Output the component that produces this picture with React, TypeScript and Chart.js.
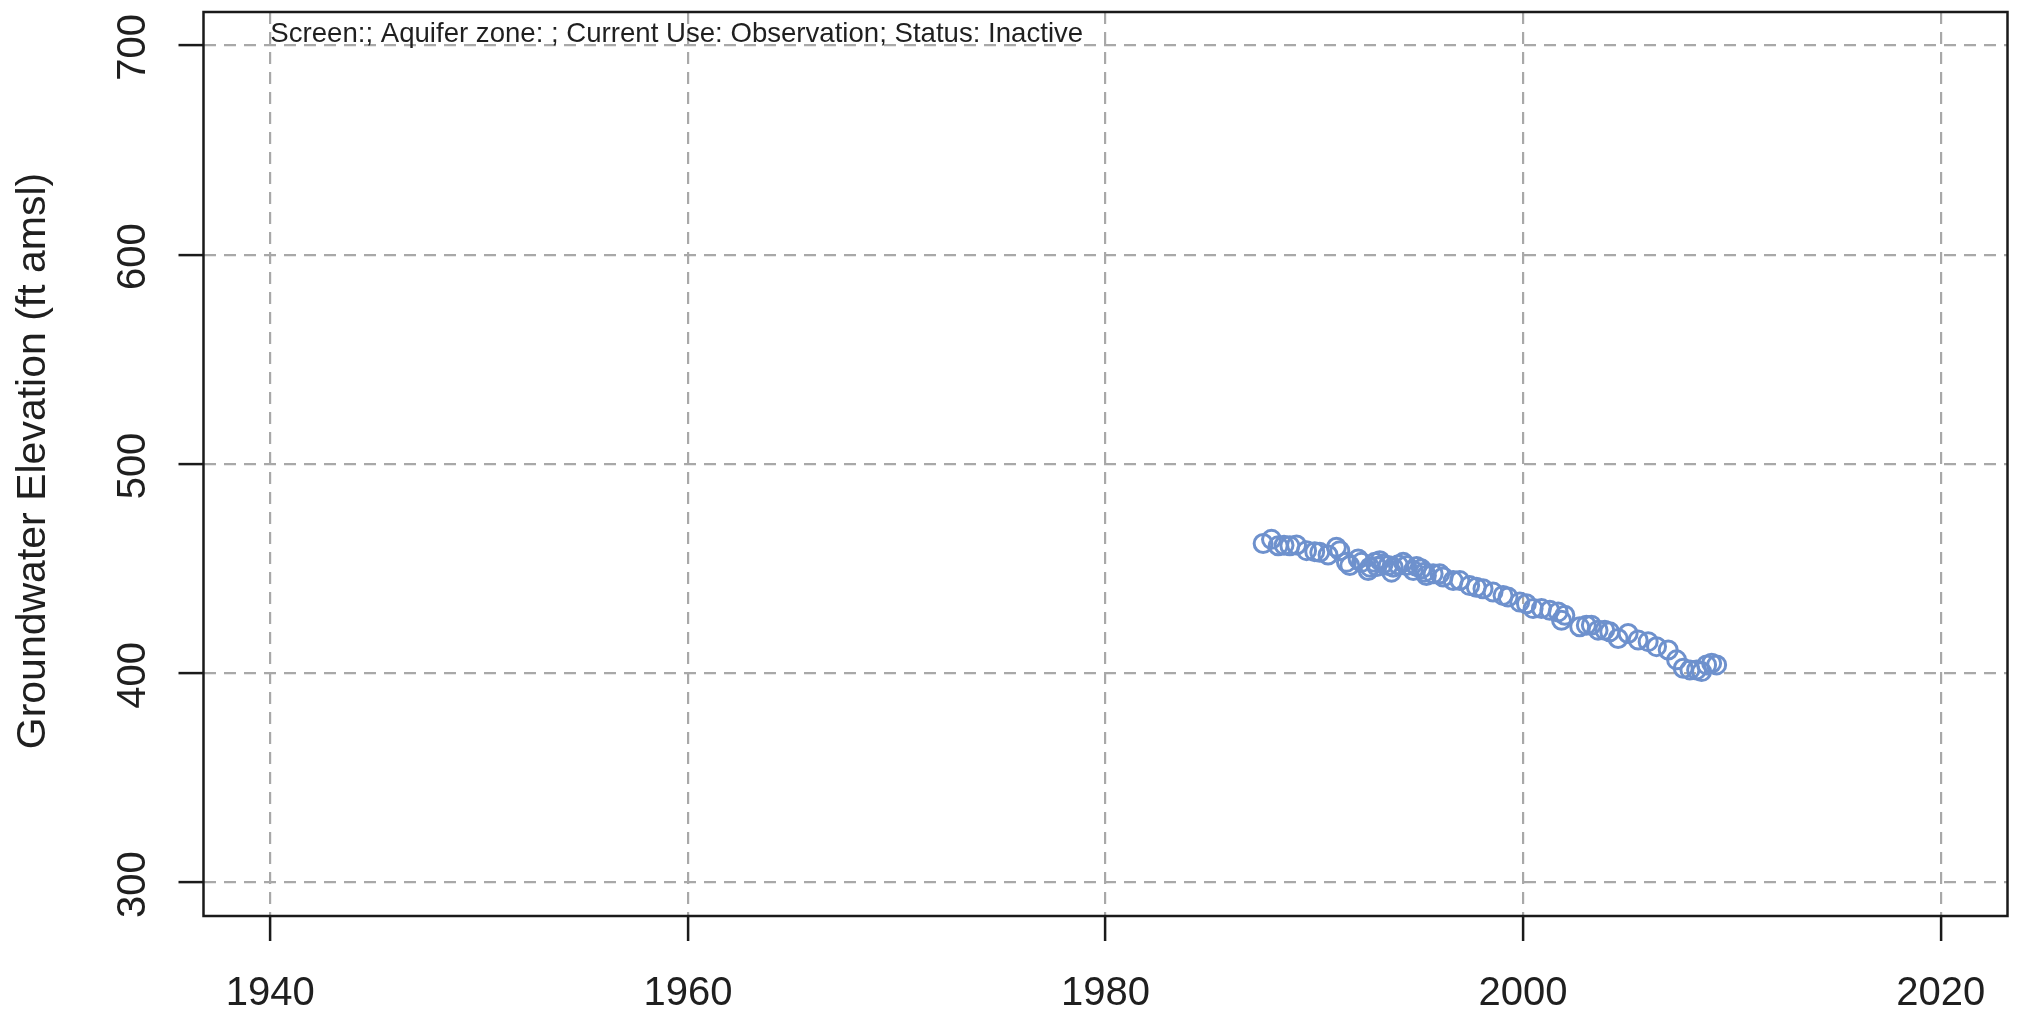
import React, { useEffect, useRef } from "react";
import { Chart, registerables } from "chart.js";

Chart.register(...registerables);

// ---- data ----
const years: number[] = [
  1987.55, 1987.95, 1988.27, 1988.55, 1988.83, 1989.15, 1989.63, 1990.02, 1990.26,
  1990.66, 1991.06, 1991.22, 1991.54, 1991.7, 1992.1, 1992.26, 1992.58, 1992.66, 1992.9,
  1993.0, 1993.14, 1993.3, 1993.54, 1993.7, 1993.78, 1994.02, 1994.26, 1994.42, 1994.74,
  1994.9, 1995.13, 1995.29, 1995.37, 1995.69, 1996.01, 1996.17, 1996.65, 1996.97, 1997.44,
  1997.76, 1998.08, 1998.56, 1999.04, 1999.28, 1999.84, 2000.16, 2000.48, 2000.88, 2001.28,
  2001.68, 2001.84, 2002.0, 2002.71, 2003.03, 2003.27, 2003.59, 2003.91, 2004.15, 2004.55,
  2005.03, 2005.51, 2005.99, 2006.39, 2006.95, 2007.35, 2007.67, 2007.99, 2008.31,
  2008.55, 2008.79, 2009.03, 2009.27,
];
const elevations: number[] = [
  462.0, 464.0, 460.9, 461.2, 460.9, 461.3, 458.6, 458.1, 457.8,
  456.5, 460.2, 458.6, 453.0, 451.5, 454.6, 453.0, 449.1, 450.7, 453.0,
  451.0, 453.8, 452.2, 451.5, 448.3, 450.7, 451.8, 453.0, 451.5, 449.1,
  451.0, 449.9, 448.3, 446.7, 447.5, 447.5, 446.0, 444.3, 444.3, 441.9,
  441.1, 440.4, 438.8, 437.2, 436.4, 434.0, 433.2, 430.9, 430.9, 430.1,
  429.3, 425.3, 427.7, 422.2, 423.0, 423.0, 420.6, 420.6, 419.8, 416.6,
  419.0, 415.9, 415.1, 412.7, 411.1, 406.4, 402.4, 401.6, 401.6,
  400.8, 404.0, 404.8, 404.0,
];
const xTickValues: number[] = [1940, 1960, 1980, 2000, 2020];
const xTickLabels: string[] = ["1940", "1960", "1980", "2000", "2020"];
const yTickValues: number[] = [300, 400, 500, 600, 700];
const yTickLabels: string[] = ["300", "400", "500", "600", "700"];
const xMin = 1936.8;
const xMax = 2023.2;
const yMin = 284;
const yMax = 716;
const yAxisTitle = "Groundwater Elevation (ft amsl)";
const annotationText = "Screen:; Aquifer zone: ; Current Use: Observation; Status: Inactive";

const FONT = '"Liberation Sans", Arial, Helvetica, sans-serif';
const TEXT_COLOR = "#1f1f1f";

const rPlotPlugin = {
  id: "rPlotDecor",
  afterDraw(chart: any) {
    const { ctx, chartArea, scales } = chart;
    const xs = scales.x;
    const ys = scales.y;
    ctx.save();
    // full box
    ctx.strokeStyle = "#1a1a1a";
    ctx.lineWidth = 2.5;
    ctx.setLineDash([]);
    ctx.strokeRect(
      chartArea.left,
      chartArea.top,
      chartArea.right - chartArea.left,
      chartArea.bottom - chartArea.top
    );
    ctx.fillStyle = TEXT_COLOR;
    // x tick labels
    ctx.font = `40px ${FONT}`;
    ctx.textAlign = "center";
    ctx.textBaseline = "alphabetic";
    xTickValues.forEach((v, i) => {
      ctx.fillText(xTickLabels[i], xs.getPixelForValue(v), chartArea.bottom + 89);
    });
    // y tick labels (rotated)
    yTickValues.forEach((v, i) => {
      ctx.save();
      ctx.translate(chartArea.left - 58.5, ys.getPixelForValue(v) + 2);
      ctx.rotate(-Math.PI / 2);
      ctx.fillText(yTickLabels[i], 0, 0);
      ctx.restore();
    });
    // y axis title
    ctx.font = `41px ${FONT}`;
    ctx.save();
    ctx.translate(45, (chartArea.top + chartArea.bottom) / 2 - 3);
    ctx.rotate(-Math.PI / 2);
    ctx.fillText(yAxisTitle, 0, 0);
    ctx.restore();
    // annotation
    ctx.font = `27.6px ${FONT}`;
    ctx.textAlign = "left";
    ctx.fillText(annotationText, xs.getPixelForValue(1940), chartArea.top + 30);
    ctx.restore();
  },
};

export default function App() {
  const canvasRef = useRef<HTMLCanvasElement | null>(null);

  useEffect(() => {
    const canvas = canvasRef.current;
    if (!canvas) return;
    const points = years.map((yr, i) => ({ x: yr, y: elevations[i] }));
    const gridCommon = {
      color: "#a8a8a8",
      lineWidth: 2.2,
      drawTicks: true,
      tickLength: 25,
      tickColor: "#1a1a1a",
      tickWidth: 2.5,
      tickBorderDash: [],
    };
    const chart = new Chart(canvas, {
      type: "scatter",
      data: {
        datasets: [
          {
            data: points,
            showLine: false,
            pointStyle: "circle",
            pointRadius: 9,
            pointHoverRadius: 9,
            pointBorderWidth: 3,
            pointBackgroundColor: "rgba(0,0,0,0)",
            pointBorderColor: "#6e91cd",
          },
        ],
      },
      plugins: [rPlotPlugin],
      options: {
        animation: false,
        responsive: false,
        devicePixelRatio: 1,
        events: [],
        layout: { padding: { top: 6, right: 13.5, left: 0, bottom: 0 } },
        elements: { point: { radius: 9, borderWidth: 3 } },
        plugins: {
          legend: { display: false },
          tooltip: { enabled: false },
          title: { display: false },
        },
        scales: {
          x: {
            type: "linear",
            position: "bottom",
            min: xMin,
            max: xMax,
            ticks: { display: false, includeBounds: false },
            afterBuildTicks: (scale: any) => {
              scale.ticks = xTickValues.map((v) => ({ value: v }));
            },
            afterFit: (scale: any) => {
              scale.height = 100;
            },
            grid: gridCommon,
            border: { display: false, dash: [12, 8] },
            title: { display: false },
          },
          y: {
            type: "linear",
            position: "left",
            min: yMin,
            max: yMax,
            ticks: { display: false, includeBounds: false },
            afterBuildTicks: (scale: any) => {
              scale.ticks = yTickValues.map((v) => ({ value: v }));
            },
            afterFit: (scale: any) => {
              scale.width = 203.5;
            },
            grid: gridCommon,
            border: { display: false, dash: [12, 8] },
            title: { display: false },
          },
        },
      } as any,
    });
    return () => {
      chart.destroy();
    };
  }, []);

  return (
    <div style={{ position: "fixed", left: 0, top: 0, width: 2021, height: 1016, background: "#ffffff" }}>
      <canvas ref={canvasRef} width={2021} height={1016} style={{ display: "block", width: 2021, height: 1016 }} />
    </div>
  );
}
